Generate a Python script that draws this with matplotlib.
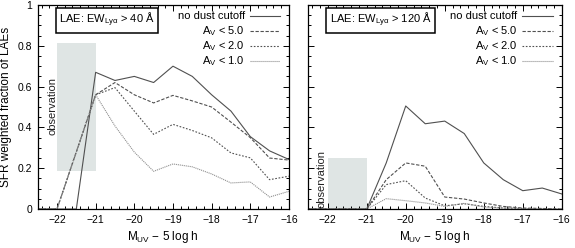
import matplotlib.pyplot as plt
import matplotlib.ticker as ticker
from matplotlib.lines import Line2D
import numpy as np

plt.rcParams['font.family'] = ['Liberation Sans', 'DejaVu Sans']
plt.rcParams['mathtext.fontset'] = 'custom'
plt.rcParams['mathtext.rm'] = 'Liberation Sans'
plt.rcParams['mathtext.it'] = 'Liberation Sans:italic'

# magnitude bins
mag = [-22.5, -22.0, -21.5, -21.0, -20.5, -20.0, -19.5, -19.0, -18.5, -18.0, -17.5, -17.0, -16.5, -16.0]

# EW > 40 A
ew40_nodust = [0, 0, 0, 0.67, 0.63, 0.65, 0.62, 0.70, 0.65, 0.56, 0.48, 0.355, 0.285, 0.243]
ew40_av5 = [0, 0, 0.28, 0.56, 0.62, 0.56, 0.52, 0.557, 0.53, 0.50, 0.426, 0.35, 0.25, 0.24]
ew40_av2 = [0, 0, 0.28, 0.56, 0.595, 0.48, 0.366, 0.415, 0.385, 0.349, 0.275, 0.251, 0.144, 0.161]
ew40_av1 = [0, 0, 0.28, 0.56, 0.407, 0.279, 0.185, 0.221, 0.207, 0.172, 0.128, 0.133, 0.059, 0.087]

# EW > 120 A
ew120_nodust = [0, 0, 0, 0, 0.226, 0.505, 0.418, 0.431, 0.37, 0.226, 0.144, 0.09, 0.103, 0.074]
ew120_av5 = [0, 0, 0, 0, 0.144, 0.226, 0.21, 0.059, 0.049, 0.03, 0.013, 0.005, 0.003, 0.0]
ew120_av2 = [0, 0, 0, 0, 0.12, 0.139, 0.054, 0.016, 0.026, 0.013, 0.005, 0.003, 0.0, 0.0]
ew120_av1 = [0, 0, 0, 0, 0.051, 0.041, 0.03, 0.013, 0.028, 0.01, 0.005, 0.002, 0.0, 0.0]

# observed ranges (x0, x1, y0, y1)
obs40 = (-22.0, -21.0, 0.185, 0.815)
obs120 = (-22.0, -21.0, 0.0, 0.25)

labels = ['no dust cutoff', r'A$_{\rm V}$ < 5.0', r'A$_{\rm V}$ < 2.0', r'A$_{\rm V}$ < 1.0']
styles = [dict(color='#505050', ls='-', lw=0.8),
          dict(color='#505050', ls=(0, (3, 1.5)), lw=0.8),
          dict(color='#505050', ls=(0, (1.5, 1.5)), lw=0.8),
          dict(color='#909090', ls=(0, (1, 0.8)), lw=0.8)]

fig = plt.figure(figsize=(5.75, 2.48), dpi=100)
ax1 = fig.add_axes([0.0655, 0.157, 0.437, 0.823])
ax2 = fig.add_axes([0.536, 0.157, 0.441, 0.823])

panels = [(ax1, [ew40_nodust, ew40_av5, ew40_av2, ew40_av1], obs40, '40', -22.12, 0.505),
          (ax2, [ew120_nodust, ew120_av5, ew120_av2, ew120_av1], obs120, '120', -22.15, 0.145)]

for ax, series, obs, ew, xtxt, ytxt in panels:
    ax.fill_between([obs[0], obs[1]], obs[2], obs[3], color='#dfe5e4', lw=0, zorder=0)
    ax.text(xtxt, ytxt, 'observation', rotation=90, ha='center', va='center',
            fontsize=8, color='#222222')
    for s, st in zip(series, styles):
        ax.plot(mag, s, **st, zorder=2)
    ax.set_xlim(-22.5, -16)
    ax.set_ylim(0, 1)
    ax.xaxis.set_major_locator(ticker.MultipleLocator(1))
    ax.xaxis.set_minor_locator(ticker.MultipleLocator(0.2))
    ax.yaxis.set_major_locator(ticker.MultipleLocator(0.2))
    ax.yaxis.set_minor_locator(ticker.MultipleLocator(0.05))
    ax.yaxis.set_major_formatter(ticker.FuncFormatter(lambda v, p: '%g' % v))
    ax.tick_params(which='both', direction='in', top=True, right=True, labelsize=7.5, width=0.7)
    ax.tick_params(which='major', length=4, pad=4)
    ax.tick_params(which='minor', length=2)
    for sp in ax.spines.values():
        sp.set_linewidth(0.9)
    ax.set_xlabel(r'M$_{\rm UV}$ $-$ 5 log h', fontsize=8.5, labelpad=3)

    # legend: right aligned labels with line samples to the right
    for i, (lab, st) in enumerate(zip(labels, styles)):
        yy = 0.946 - i * 0.0735
        ax.text(0.825, yy, lab, transform=ax.transAxes, ha='right', va='center', fontsize=8)
        ax.add_line(Line2D([0.845, 0.965], [yy, yy], transform=ax.transAxes, **st))

    ax.text(0.085, 0.926, r'LAE: EW$_{\rm Ly\alpha}$ > ' + ew + ' Å', transform=ax.transAxes,
            ha='left', va='center', fontsize=8,
            bbox=dict(boxstyle='square,pad=0.3', fc='white', ec='black', lw=1.1))

ax1.set_ylabel('SFR weighted fraction of LAEs', fontsize=8.5, labelpad=4)
ax2.tick_params(labelleft=False)

fig.savefig('out.png', dpi=100)
